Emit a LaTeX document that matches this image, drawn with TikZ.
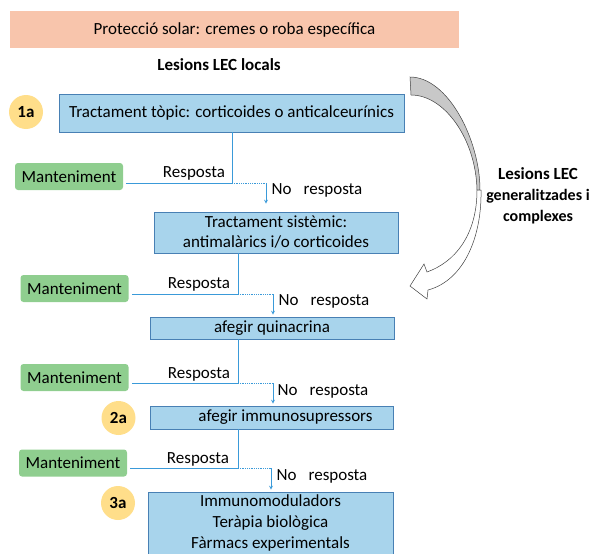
\documentclass[tikz,border=0pt]{standalone}
\usepackage{fontspec}
\setmainfont{Carlito}
\usetikzlibrary{arrows,positioning,calc}
\definecolor{sunColor}{RGB}{248,197,172}
\definecolor{boxColor}{RGB}{168,212,236}
\definecolor{boxLine}{RGB}{72,128,180}
\definecolor{mntColor}{RGB}{143,206,143}
\definecolor{lvlColor}{RGB}{255,222,138}
\definecolor{conColor}{RGB}{58,154,217}
\definecolor{arcColor}{RGB}{200,200,200}
\definecolor{arcLine}{RGB}{64,64,64}
\tikzset{sun state/.style={fill=sunColor, inner sep=2pt}}
\tikzset{treatment state/.style={draw=boxLine, fill=boxColor, inner sep=2pt, align=center}}
\tikzset{maintenance state/.style={fill=mntColor, rounded corners=3pt, minimum width=108pt, minimum height=27pt, inner sep=1pt}}
\tikzset{level state/.style={circle, fill=lvlColor, minimum size=34pt, inner sep=0pt, font=\fontsize{17}{21}\selectfont\bfseries}}
\tikzset{link/.style={conColor, line width=0.8pt}}
\newcommand{\noResp}{No\hspace{12pt}resposta}

\begin{document}
\begin{tikzpicture}[x=1pt, y=-1pt, >=stealth, semithick,
					font=\fontsize{17}{21}\selectfont]
	\useasboundingbox (0,0) rectangle (592,554);
	\node[sun state, minimum width=449pt, minimum height=37pt] at (234.5,29.5) (sun) {Protecció solar: cremes o roba específica};
	\node[font=\fontsize{17}{21}\selectfont\bfseries] at (219,65) (loc) {Lesions LEC locals};
	% levels
	\node[level state] at (26,112)    (l_1) {1a};
	\node[level state] at (118.5,418) (l_2) {2a};
	\node[level state] at (118,503)   (l_3) {3a};
	% treatments
	\node[treatment state, minimum width=345pt, minimum height=38pt] at (231.5,113) (t_1) {Tractament tòpic: corticoides o anticalceurínics};
	\node[treatment state, minimum width=244pt, minimum height=41pt] at (276,232.5) (t_2) {Tractament sistèmic:\\[-1pt]antimalàrics i/o corticoides};
	\node[treatment state, minimum width=244pt, minimum height=22pt] at (272,328)   (t_3) {afegir quinacrina};
	\node[treatment state, minimum width=243pt, minimum height=23pt] at (271.5,417.5) (t_4) {\hspace*{28pt}afegir immunosupressors};
	\node[treatment state, minimum width=245pt, minimum height=62pt] at (270.5,523) (t_5) {Immunomoduladors\\Teràpia biològica\\Fàrmacs experimentals};
	% maintenance
	\node[maintenance state] at (69,176.5)   (m_1) {Manteniment};
	\node[maintenance state] at (74.5,288.5) (m_2) {Manteniment};
	\node[maintenance state] at (74.5,377.5) (m_3) {Manteniment};
	\node[maintenance state] at (73,463)     (m_4) {Manteniment};
	% junctions
	\coordinate (j_1) at (232,183); \coordinate (k_1) at (266,183);
	\coordinate (j_2) at (238,294); \coordinate (k_2) at (273,294);
	\coordinate (j_3) at (238,383); \coordinate (k_3) at (273,383);
	\coordinate (j_4) at (238,468); \coordinate (k_4) at (271,468);
	\draw[link] (t_1.south -| j_1) -- (j_1) -- ([xshift=3pt]m_1.east |- j_1);
	\draw[link] (t_2.south -| j_2) -- (j_2) -- ([xshift=3pt]m_2.east |- j_2);
	\draw[link] (t_3.south -| j_3) -- (j_3) -- ([xshift=3pt]m_3.east |- j_3);
	\draw[link] (t_4.south -| j_4) -- (j_4) -- ([xshift=3pt]m_4.east |- j_4);
	\draw[link, densely dotted] (j_1) -- (k_1);
	\draw[link, densely dotted] (j_2) -- (k_2);
	\draw[link, densely dotted] (j_3) -- (k_3);
	\draw[link, densely dotted] (j_4) -- (k_4);
	\draw[link, ->, shorten >=8pt] (k_1) -- (t_2.north -| k_1);
	\draw[link, ->, shorten >=2pt] (k_2) -- (t_3.north -| k_2);
	\draw[link, ->, shorten >=2pt] (k_3) -- (t_4.north -| k_3);
	\draw[link, ->, shorten >=2pt] (k_4) -- (t_5.north -| k_4);
	% labels
	\node at (194,173) (r_1) {Resposta};
	\node at (199,284) (r_2) {Resposta};
	\node at (199,374) (r_3) {Resposta};
	\node at (198,459) (r_4) {Resposta};
	\node at (317,190) (n_1) {\noResp};
	\node at (324,301) (n_2) {\noResp};
	\node at (323,391) (n_3) {\noResp};
	\node at (322,476) (n_4) {\noResp};
	% generalised lesions
	\node[font=\fontsize{16}{21}\selectfont\bfseries, align=center] at (538,196) (gen) {{\fontsize{17}{21}\selectfont Lesions LEC}\\generalitzades i\\complexes};
	\filldraw[fill=arcColor, draw=arcLine, line width=0.5pt] (410,77) .. controls (448,77) and (480,140) .. (480,190) -- (477,190) .. controls (476,140) and (445,95) .. (411,95) -- cycle;
	\filldraw[fill=white, draw=arcLine, line width=0.5pt] (477,190) .. controls (477,235) and (455,262) .. (427,272) -- (424,264) -- (410,286) -- (427,299) -- (428,290) .. controls (465,280) and (482,235) .. (481,190) -- cycle;
\end{tikzpicture}
\end{document}
